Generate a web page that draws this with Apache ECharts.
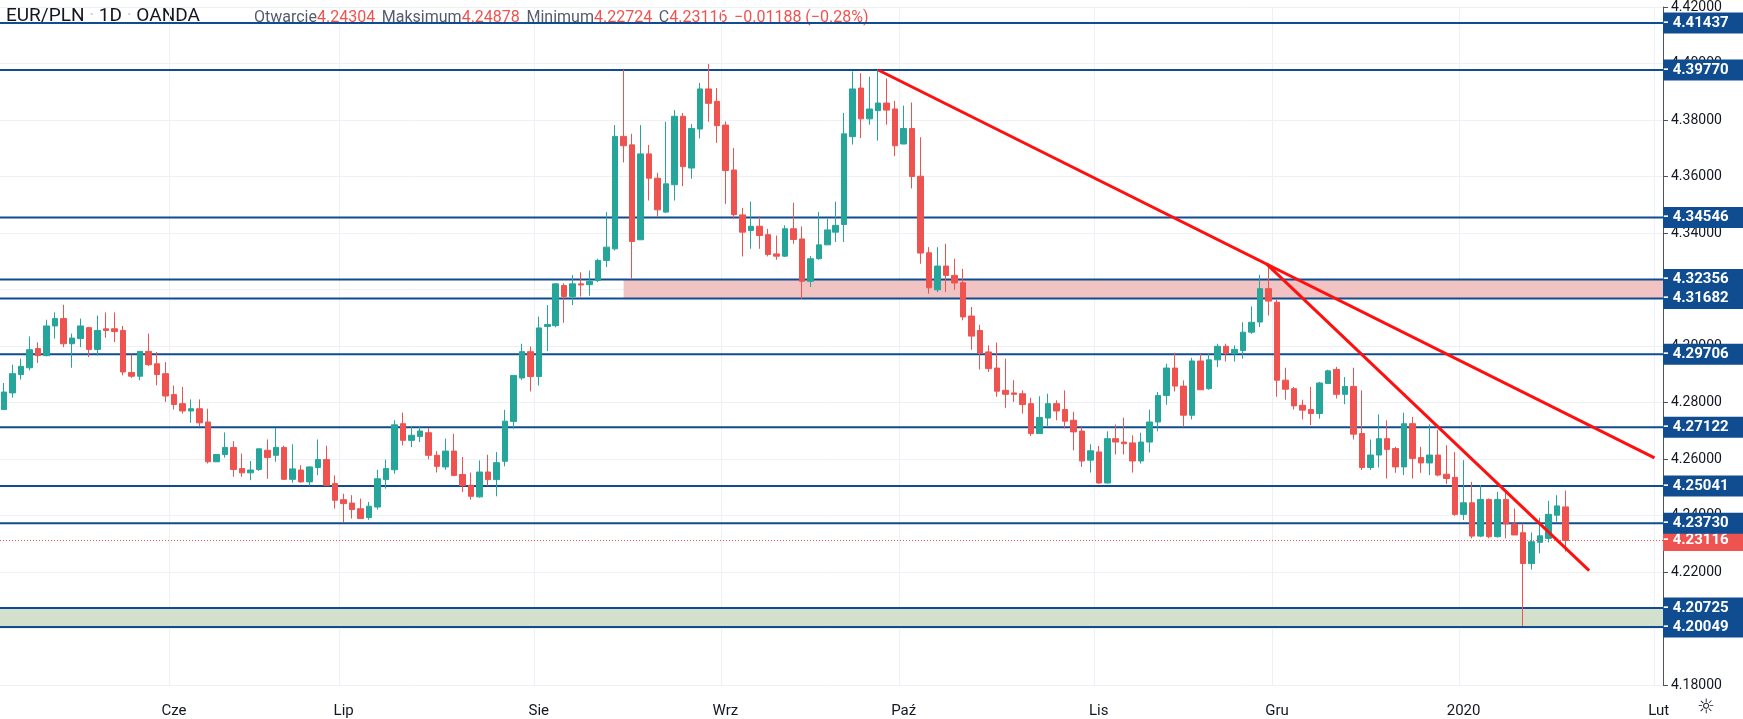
<!DOCTYPE html>
<html><head><meta charset="utf-8">
<script src="https://cdn.jsdelivr.net/npm/echarts@6/dist/echarts.min.js"></script>
<style>html,body{margin:0;padding:0;background:#fff}#c{width:1743px;height:719px}</style>
</head><body><div id="c"></div>
<script>
// Daily candles EUR/PLN, 2019-05-06 .. 2020-01-17 (weekdays)
const opens = [4.2775,4.2834,4.2899,4.2923,4.2991,4.2966,4.3071,4.3097,4.3008,4.3026,4.3065,4.2988,4.3061,4.3061,4.3055,4.2906,4.2893,4.2981,4.2937,4.2902,
4.2828,4.2796,4.2770,4.2778,4.2731,4.2590,4.2616,4.2641,4.2566,4.2551,4.2563,4.2631,4.2613,4.2641,4.2528,4.2561,4.2519,4.2570,4.2598,4.2513,
4.2456,4.2444,4.2424,4.2393,4.2430,4.2527,4.2562,4.2725,4.2666,4.2680,4.2693,4.2613,4.2572,4.2628,4.2545,4.2507,4.2466,4.2554,4.2527,4.2592,
4.2733,4.2887,4.2980,4.2892,4.3069,4.3072,4.3214,4.3175,4.3220,4.3217,4.3232,4.3303,4.3344,4.3742,4.3712,4.3376,4.3680,4.3594,4.3474,4.3571,
4.3813,4.3630,4.3768,4.3910,4.3866,4.3782,4.3623,4.3464,4.3409,4.3424,4.3394,4.3326,4.3318,4.3415,4.3379,4.3229,4.3309,4.3358,4.3403,4.3430,
4.3741,4.3913,4.3804,4.3833,4.3860,4.3839,4.3715,4.3770,4.3601,4.3330,4.3199,4.3283,4.3250,4.3224,4.3106,4.3055,4.2979,4.2922,4.2843,4.2834,
4.2831,4.2796,4.2690,4.2745,4.2796,4.2775,4.2737,4.2699,4.2596,4.2625,4.2515,4.2672,4.2660,4.2657,4.2593,4.2660,4.2731,4.2825,4.2922,4.2858,
4.2755,4.2947,4.2849,4.2951,4.2999,4.2973,4.2984,4.3049,4.3085,4.3203,4.3155,4.2879,4.2849,4.2790,4.2775,4.2761,4.2867,4.2917,4.2829,4.2857,
4.2690,4.2570,4.2614,4.2672,4.2637,4.2572,4.2725,4.2605,4.2586,4.2614,4.2546,4.2535,4.2404,4.2445,4.2327,4.2457,4.2325,4.2457,4.2370,4.2339,
4.2230,4.2305,4.2319,4.2401,4.24304];
const highs = [4.2869,4.2934,4.2955,4.3034,4.3013,4.3093,4.3119,4.3146,4.3044,4.3097,4.3068,4.3108,4.3119,4.3119,4.3071,4.2970,4.2982,4.3044,4.2979,4.2943,
4.2860,4.2855,4.2811,4.2811,4.2778,4.2616,4.2694,4.2663,4.2619,4.2593,4.2637,4.2669,4.2710,4.2647,4.2652,4.2578,4.2573,4.2669,4.2647,4.2542,
4.2477,4.2472,4.2460,4.2448,4.2562,4.2598,4.2737,4.2764,4.2715,4.2715,4.2709,4.2628,4.2672,4.2689,4.2607,4.2552,4.2595,4.2615,4.2625,4.2774,
4.2896,4.3008,4.2998,4.3104,4.3145,4.3222,4.3222,4.3251,4.3261,4.3267,4.3309,4.3474,4.3782,4.3978,4.3751,4.3782,4.3712,4.3613,4.3794,4.3835,
4.3825,4.3786,4.3931,4.3998,4.3913,4.3795,4.3701,4.3489,4.3511,4.3460,4.3415,4.3391,4.3427,4.3507,4.3423,4.3318,4.3474,4.3450,4.3511,4.3825,
4.3972,4.3966,4.3953,4.3978,4.3947,4.3868,4.3851,4.3862,4.3739,4.3350,4.3350,4.3362,4.3309,4.3273,4.3138,4.3075,4.3002,4.3012,4.2955,4.2879,
4.2843,4.2817,4.2822,4.2831,4.2808,4.2843,4.2767,4.2713,4.2652,4.2646,4.2698,4.2722,4.2746,4.2684,4.2693,4.2775,4.2837,4.2937,4.2976,4.2878,
4.2958,4.2973,4.2973,4.3008,4.3008,4.3002,4.3084,4.3140,4.3252,4.3291,4.3164,4.2923,4.2855,4.2810,4.2855,4.2873,4.2916,4.2926,4.2890,4.2923,
4.2843,4.2669,4.2758,4.2737,4.2643,4.2764,4.2749,4.2643,4.2723,4.2702,4.2649,4.2625,4.2596,4.2519,4.2508,4.2460,4.2484,4.2490,4.2425,4.2372,
4.2340,4.2392,4.2452,4.2472,4.24878];
const lows = [4.2775,4.2817,4.2881,4.2914,4.2940,4.2963,4.3026,4.2996,4.2923,4.2996,4.2961,4.2966,4.3029,4.3014,4.2896,4.2887,4.2879,4.2929,4.2861,4.2802,
4.2775,4.2761,4.2728,4.2716,4.2584,4.2590,4.2605,4.2537,4.2537,4.2525,4.2558,4.2530,4.2590,4.2526,4.2516,4.2516,4.2504,4.2543,4.2504,4.2424,
4.2377,4.2389,4.2389,4.2385,4.2421,4.2495,4.2548,4.2648,4.2642,4.2660,4.2599,4.2552,4.2562,4.2539,4.2483,4.2456,4.2463,4.2506,4.2468,4.2574,
4.2707,4.2880,4.2839,4.2860,4.2982,4.3066,4.3082,4.3145,4.3175,4.3178,4.3226,4.3279,4.3338,4.3650,4.3238,4.3376,4.3515,4.3456,4.3471,4.3515,
4.3566,4.3592,4.3735,4.3794,4.3719,4.3503,4.3450,4.3317,4.3344,4.3344,4.3317,4.3305,4.3315,4.3362,4.3167,4.3209,4.3305,4.3358,4.3368,4.3368,
4.3713,4.3736,4.3783,4.3727,4.3783,4.3672,4.3715,4.3558,4.3291,4.3185,4.3191,4.3191,4.3199,4.3091,4.2987,4.2917,4.2908,4.2820,4.2781,4.2802,
4.2761,4.2681,4.2690,4.2714,4.2737,4.2708,4.2631,4.2572,4.2552,4.2513,4.2513,4.2616,4.2616,4.2552,4.2584,4.2623,4.2698,4.2792,4.2839,4.2713,
4.2740,4.2845,4.2845,4.2925,4.2945,4.2945,4.2955,4.3043,4.3067,4.3108,4.2820,4.2810,4.2775,4.2740,4.2720,4.2743,4.2867,4.2814,4.2794,4.2669,
4.2561,4.2561,4.2570,4.2531,4.2551,4.2543,4.2531,4.2551,4.2543,4.2539,4.2511,4.2399,4.2384,4.2319,4.2323,4.2319,4.2322,4.2319,4.2331,4.2009,
4.2209,4.2266,4.2305,4.2378,4.22724];
const closes = [4.2837,4.2902,4.2928,4.2987,4.2966,4.3071,4.3097,4.3008,4.3028,4.3071,4.2988,4.3055,4.3055,4.3051,4.2908,4.2893,4.2981,4.2934,4.2899,4.2823,
4.2793,4.2770,4.2778,4.2728,4.2590,4.2616,4.2641,4.2563,4.2551,4.2561,4.2636,4.2605,4.2641,4.2528,4.2565,4.2519,4.2572,4.2598,4.2507,4.2454,
4.2442,4.2421,4.2389,4.2433,4.2530,4.2566,4.2721,4.2666,4.2684,4.2699,4.2613,4.2574,4.2628,4.2542,4.2506,4.2468,4.2554,4.2527,4.2587,4.2734,
4.2896,4.2980,4.2892,4.3064,4.3076,4.3220,4.3175,4.3220,4.3216,4.3229,4.3303,4.3350,4.3742,4.3709,4.3370,4.3680,4.3594,4.3482,4.3574,4.3813,
4.3635,4.3770,4.3910,4.3859,4.3780,4.3621,4.3465,4.3403,4.3424,4.3391,4.3324,4.3318,4.3415,4.3377,4.3229,4.3309,4.3358,4.3411,4.3427,4.3751,
4.3910,4.3804,4.3839,4.3860,4.3835,4.3709,4.3770,4.3600,4.3329,4.3206,4.3283,4.3250,4.3223,4.3103,4.3035,4.2975,4.2920,4.2840,4.2829,4.2829,
4.2793,4.2690,4.2747,4.2796,4.2770,4.2734,4.2696,4.2593,4.2629,4.2515,4.2672,4.2660,4.2654,4.2593,4.2660,4.2731,4.2825,4.2922,4.2858,4.2755,
4.2947,4.2845,4.2951,4.2999,4.2975,4.2988,4.3049,4.3084,4.3203,4.3159,4.2879,4.2847,4.2788,4.2773,4.2761,4.2869,4.2912,4.2829,4.2857,4.2688,
4.2570,4.2614,4.2672,4.2634,4.2572,4.2725,4.2602,4.2586,4.2614,4.2543,4.2531,4.2404,4.2445,4.2327,4.2457,4.2325,4.2457,4.2370,4.2331,4.2230,
4.2307,4.2328,4.2404,4.2434,4.23116];
const levels = [4.41437,4.39770,4.34546,4.32356,4.31682,4.29706,4.27122,4.25041,4.23730,4.20725,4.20049];
const lastPrice = 4.23116;
const redZone = [4.31682, 4.32356];
const greenZone = [4.20049, 4.20725];
const trend1 = [[103, 4.3977], [194.5, 4.2604]];
const trend2 = [[148.8, 4.3290], [186.8, 4.2205]];
const monthNames = {5:'Cze',6:'Lip',7:'Sie',8:'Wrz',9:'Paź',10:'Lis',11:'Gru',0:'2020',1:'Lut'};

const cats = []; const labelIdx = {};
{ let d = new Date(Date.UTC(2019,4,6)); let lastM = 4;
  while (d <= new Date(Date.UTC(2020,1,3))) {
    const wd = d.getUTCDay();
    if (wd !== 0 && wd !== 6) {
      const m = d.getUTCMonth();
      if (m !== lastM) { labelIdx[cats.length] = monthNames[m]; lastM = m; }
      cats.push(d.toISOString().slice(0,10));
    }
    d = new Date(d.getTime() + 86400000);
  } }
const N = cats.length;
const ohlc = opens.map((o,i)=>[o, closes[i], lows[i], highs[i]]);

const BLUE = '#0f4c90';
const levelSeries = levels.concat([lastPrice]).map(v => {
  const isLast = v === lastPrice;
  const col = isLast ? '#ef5350' : BLUE;
  return {type:'line',xAxisIndex:1,silent:true,z:isLast?3:4,symbol:'none',
    data:[[-0.5,v],[N-0.5,v]],
    lineStyle:{color:col,width:isLast?1:2,type:isLast?[1,2]:'solid'},
    endLabel:{show:true,formatter:'- '+v.toFixed(5),backgroundColor:col,color:'#fff',fontWeight:'bold',fontSize:15,
      padding:[2,8,1,0],distance:0,fontFamily:'Roboto',lineHeight:18,width:79},
    labelLayout:{hideOverlap:false}};
});

const chart = echarts.init(document.getElementById('c'));
chart.setOption({
  animation:false,
  backgroundColor:'#fff',
  grid:{left:-3,top:6,width:1666,bottom:34,containLabel:false},
  xAxis:[{type:'category',data:cats,boundaryGap:true,
    axisLine:{show:false},axisTick:{show:false},
    axisLabel:{interval:(i)=>labelIdx[i]!==undefined,formatter:(v,i)=>labelIdx[i]||'',color:'#131722',fontSize:15,fontFamily:'Roboto',margin:19},
    splitLine:{show:true,interval:(i)=>labelIdx[i]!==undefined,lineStyle:{color:'#edf1f6',width:1}}},
    {type:'value',min:-0.5,max:N-0.5,show:false}],
  yAxis:{type:'value',position:'right',min:4.18,max:4.42,interval:0.02,
    axisLine:{show:true,onZero:false,lineStyle:{color:'#50535e'}},axisTick:{show:true,length:5,lineStyle:{color:'#50535e'}},
    axisLabel:{formatter:v=>v.toFixed(5),color:'#131722',fontSize:14,fontFamily:'Roboto',margin:8},
    splitLine:{lineStyle:{color:'#edf1f6'}}},
  series:[
    {type:'line',xAxisIndex:1,data:[],silent:true,z:0,
      markArea:{silent:true,data:[
        [{xAxis:73,yAxis:redZone[0],itemStyle:{color:'#f2c3c3'}},{xAxis:N-0.5,yAxis:redZone[1]}],
        [{xAxis:-0.5,yAxis:greenZone[0],itemStyle:{color:'#d3e0cc'}},{xAxis:N-0.5,yAxis:greenZone[1]}]]}},
    {type:'candlestick',data:ohlc,barWidth:6,z:5,
      itemStyle:{color:'#26a69a',color0:'#ef5350',borderColor:'#26a69a',borderColor0:'#ef5350',borderWidth:1}},
    ...levelSeries,
    {type:'line',xAxisIndex:1,data:trend1,symbol:'none',z:6,lineStyle:{color:'#ff1010',width:3}},
    {type:'line',xAxisIndex:1,data:trend2,symbol:'none',z:6,lineStyle:{color:'#ff1010',width:3}}
  ],
  graphic:[
    {type:'text',left:6,top:7,style:{rich:{t:{fill:'#131722',font:'19px Roboto'},d:{fill:'#c8cbd2',font:'19px Roboto'}},
      text:'{t|EUR/PLN}{d| · }{t|1D}{d| · }{t|OANDA}'}},
    {type:'text',left:254,top:10,style:{rich:{g:{fill:'#555b6e',font:'16px Roboto'},r:{fill:'#ef5350',font:'16px Roboto'}},
      text:'{g|Otwarcie}{r|4.24304}  {g|Maksimum}{r|4.24878}  {g|Minimum}{r|4.22724}  {g|C}{r|4.23116}  {r|−0.01188 (−0.28%)}'}},
    {type:'text',left:1697,top:698,style:{text:'☼',fill:'#131722',font:'20px DejaVu Sans'}}
  ]
});
</script></body></html>
